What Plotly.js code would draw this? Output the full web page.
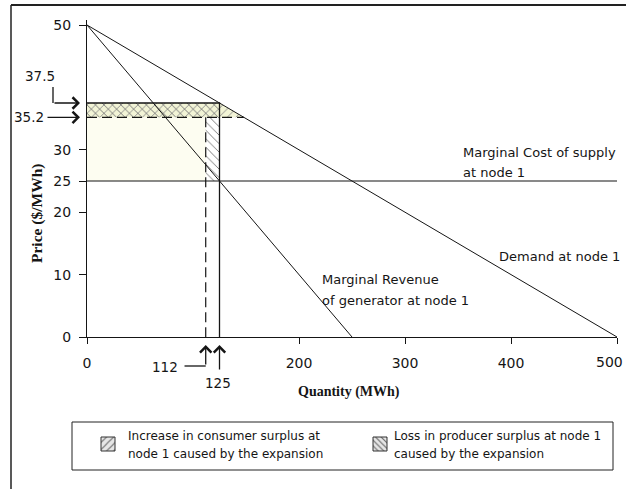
<!DOCTYPE html>
<html><head><meta charset="utf-8">
<script src="https://cdn.plot.ly/plotly-3.0.1.min.js"></script>
<style>html,body{margin:0;padding:0;background:#fff}#chart{width:626px;height:489px}</style>
</head><body><div id="chart"></div>
<script>
// ---- data ----
const demandQuantity = [0, 500];
const demandPrice = [50, 0];
const mrQuantity = [0, 250];
const mrPrice = [50, 0];
const mcQuantity = [0, 500];
const mcPrice = [25, 25];
const priceBefore = 37.5;
const priceAfter = 35.2;
const qBefore = 125;
const qAfter = 112;
const qDemandAfter = 148;
const yTickVals = [0, 10, 20, 25, 30, 50];
const xTickVals = [0, 200, 300, 400, 500];
const curveLabels = ["Marginal Cost of supply", "at node 1", "Demand at node 1", "Marginal Revenue", "of generator at node 1"];
const legendText1 = ["Increase in consumer surplus at", "node 1 caused by the expansion"];
const legendText2 = ["Loss in producer surplus at node 1", "caused by the expansion"];

// ---- layout helpers (pixel -> paper) ----
const W = 626, H = 489;
const px = x => x / W;
const py = y => 1 - y / H;
const PX0 = 87, PX1 = 617, PY0 = 337, PY1 = 20;
const yMax = 50 * (PY0 - PY1) / (PY0 - 25);
const LB = {x0: 72, x1: 613, y0: 422, y1: 470};
const ink = '#151515';
const sans = 'DejaVu Sans';
const serif = 'Liberation Serif';
const xMax = xTickVals[xTickVals.length - 1];

const traces = [
  // faint tint
  {x: [0, 0, qAfter, qAfter], y: [mcPrice[0], priceAfter, priceAfter, mcPrice[0]], fill: 'toself', mode: 'none', fillcolor: '#fdfdf1', hoverinfo: 'skip', showlegend: false},
  // consumer surplus increase
  {x: [0, 0, qBefore, qDemandAfter], y: [priceAfter, priceBefore, priceBefore, priceAfter], fill: 'toself', mode: 'none',
   fillpattern: {shape: '/', size: 6, solidity: 0.15, fgcolor: '#8a8a8a', bgcolor: '#f2f4d6'}, hoverinfo: 'skip', showlegend: false},
  // producer surplus loss
  {x: [0, 0, qBefore, qBefore, qAfter, qAfter], y: [priceAfter, priceBefore, priceBefore, mcPrice[0], mcPrice[0], priceAfter], fill: 'toself', mode: 'none',
   fillpattern: {shape: '\\', size: 6, solidity: 0.15, fgcolor: '#707070', bgcolor: 'rgba(0,0,0,0)'}, hoverinfo: 'skip', showlegend: false},
  // curves
  {x: mcQuantity, y: mcPrice, mode: 'lines', line: {color: ink, width: 1.2}, showlegend: false},
  {x: demandQuantity, y: demandPrice, mode: 'lines', line: {color: ink, width: 1}, showlegend: false},
  {x: mrQuantity, y: mrPrice, mode: 'lines', line: {color: ink, width: 1}, showlegend: false},
  // price/quantity guide lines
  {x: [0, qBefore, qBefore], y: [priceBefore, priceBefore, 0], mode: 'lines', line: {color: ink, width: 1.3}, showlegend: false},
  {x: [0, qDemandAfter], y: [priceAfter, priceAfter], mode: 'lines', line: {color: ink, width: 1.2, dash: '10px,5px'}, showlegend: false},
  {x: [qAfter, qAfter], y: [priceAfter, 0], mode: 'lines', line: {color: ink, width: 1.2, dash: '10px,5px'}, showlegend: false},
  // legend icons (inset axes in legend box, pixel units)
  {x: [101, 115, 115, 101, 101], y: [437, 437, 451, 451, 437], xaxis: 'x2', yaxis: 'y2', fill: 'toself', mode: 'lines', line: {color: '#333', width: 1},
   fillpattern: {shape: '/', size: 5, solidity: 0.22, fgcolor: '#777', bgcolor: '#e6e6e6'}, hoverinfo: 'skip', showlegend: false},
  {x: [373, 387, 387, 373, 373], y: [437, 437, 451, 451, 437], xaxis: 'x2', yaxis: 'y2', fill: 'toself', mode: 'lines', line: {color: '#333', width: 1},
   fillpattern: {shape: '\\', size: 4, solidity: 0.28, fgcolor: '#666', bgcolor: '#e6e6e6'}, hoverinfo: 'skip', showlegend: false}
];

function txt(text, x, y, opts) {
  return Object.assign({text: text, xref: 'paper', yref: 'paper', x: px(x), y: py(y), showarrow: false,
    xanchor: 'left', yanchor: 'middle', font: {family: sans, size: 13, color: ink}}, opts || {});
}
const arrowStyle = {showarrow: true, arrowhead: 4, arrowsize: 1.7, arrowwidth: 1.3, arrowcolor: ink, text: ''};

const annotations = [
  txt(curveLabels[0], 461, 152),
  txt(curveLabels[1], 461, 172),
  txt(curveLabels[2], 497, 256),
  txt(curveLabels[3], 320, 279),
  txt(curveLabels[4], 320, 300),
  // axis titles
  txt('Quantity (MWh)', 349, 392, {xanchor: 'center', font: {family: serif, size: 14, color: ink, weight: 'bold'}}),
  txt('Price ($/MWh)', 37, 214, {xanchor: 'center', textangle: -90, font: {family: serif, size: 15.5, color: ink, weight: 'bold'}}),
  // last x tick label kept inside the page edge
  txt(String(xMax), 625, 362, {xanchor: 'right', font: {family: sans, size: 14, color: ink}}),
  // price markers
  txt(String(priceBefore), 40, 76, {xanchor: 'center', font: {family: sans, size: 13.5, color: ink}}),
  txt(String(priceAfter), 46, 117, {xanchor: 'right', font: {family: sans, size: 13.5, color: ink}}),
  Object.assign({xref: 'paper', yref: 'y', x: px(80), y: priceBefore, ax: -27, ay: 0}, arrowStyle),
  Object.assign({xref: 'paper', yref: 'y', x: px(80), y: priceAfter, ax: -34, ay: 0}, arrowStyle),
  // quantity markers
  txt(String(qAfter), 165, 367, {xanchor: 'center', font: {family: sans, size: 13.5, color: ink}}),
  txt(String(qBefore), 218, 383, {xanchor: 'center', font: {family: sans, size: 13.5, color: ink}}),
  Object.assign({xref: 'x', yref: 'paper', x: qAfter, y: py(345), ax: 0, ay: 21}, arrowStyle),
  Object.assign({xref: 'x', yref: 'paper', x: qBefore, y: py(345), ax: 0, ay: 26}, arrowStyle),
  // legend text
  txt(legendText1[0], 126, 436, {font: {family: sans, size: 12, color: ink}}),
  txt(legendText1[1], 126, 454, {font: {family: sans, size: 12, color: ink}}),
  txt(legendText2[0], 392, 436, {font: {family: sans, size: 12, color: ink}}),
  txt(legendText2[1], 392, 454, {font: {family: sans, size: 12, color: ink}})
];

const shapes = [
  // outer frame (left + top)
  {type: 'line', xref: 'paper', yref: 'paper', x0: px(11), x1: px(11), y0: py(5), y1: 0, line: {color: '#222', width: 1.5}},
  {type: 'line', xref: 'paper', yref: 'paper', x0: px(11), x1: 1, y0: py(5), y1: py(5), line: {color: '#222', width: 2}},
  // legend box
  {type: 'rect', xref: 'paper', yref: 'paper', x0: px(LB.x0), x1: px(LB.x1), y0: py(LB.y1), y1: py(LB.y0), line: {color: '#222', width: 1}},
  // bracket pieces
  {type: 'line', xref: 'paper', yref: 'paper', x0: px(53), x1: px(53), y0: py(87), y1: py(103), line: {color: ink, width: 1.3}},
  {type: 'line', xref: 'x', yref: 'paper', x0: qAfter - 20, x1: qAfter, y0: py(366), y1: py(366), line: {color: ink, width: 1.3}}
];

const layout = {
  width: W, height: H,
  margin: {l: 0, r: 0, t: 0, b: 0},
  paper_bgcolor: '#fff', plot_bgcolor: 'rgba(0,0,0,0)',
  showlegend: false,
  xaxis: {domain: [px(PX0), px(PX1)], range: [0, xMax], tickvals: xTickVals,
    ticktext: xTickVals.map(v => v === xMax ? '' : String(v)),
    showgrid: false, zeroline: false, showline: true, linecolor: ink, linewidth: 1,
    ticks: 'outside', ticklen: 6, tickcolor: ink, ticklabelstandoff: 7,
    tickfont: {family: sans, size: 14, color: ink}, fixedrange: true},
  yaxis: {domain: [py(PY0), py(PY1)], range: [0, yMax], tickvals: yTickVals, ticktext: yTickVals.map(String),
    showgrid: false, zeroline: false, showline: true, linecolor: ink, linewidth: 1,
    ticks: 'outside', ticklen: 7, tickcolor: ink, ticklabelstandoff: 5, ticklabeloverflow: 'allow',
    tickfont: {family: sans, size: 14, color: ink}, fixedrange: true},
  xaxis2: {domain: [px(LB.x0), px(LB.x1)], range: [LB.x0, LB.x1], visible: false, fixedrange: true},
  yaxis2: {domain: [py(LB.y1), py(LB.y0)], range: [LB.y1, LB.y0], visible: false, fixedrange: true},
  annotations: annotations,
  shapes: shapes
};

Plotly.newPlot('chart', traces, layout, {displayModeBar: false, staticPlot: true});
</script></body></html>
